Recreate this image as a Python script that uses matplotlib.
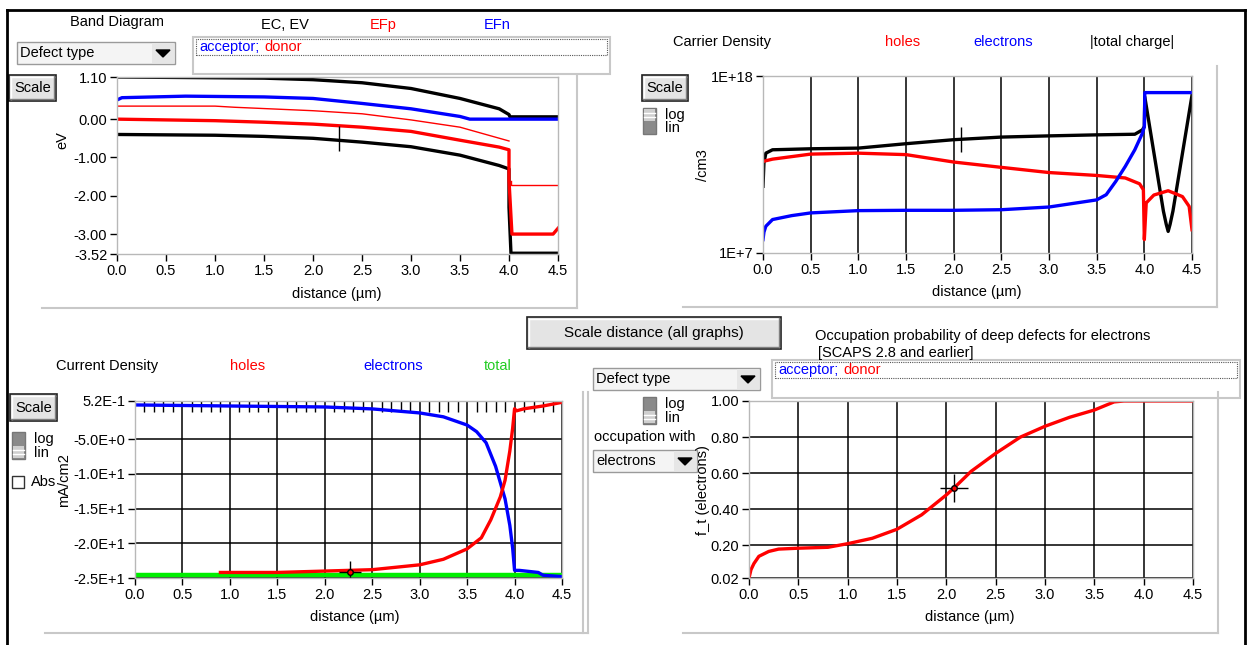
import matplotlib
matplotlib.use("Agg")
import matplotlib.pyplot as plt
from matplotlib.patches import Rectangle, Polygon
from matplotlib.lines import Line2D
from matplotlib.ticker import MultipleLocator, NullLocator

plt.rcParams['font.family'] = ['Liberation Sans', 'DejaVu Sans']
plt.rcParams['font.size'] = 10.5

# ---- data ----
x_ticks = [0.0, 0.5, 1.0, 1.5, 2.0, 2.5, 3.0, 3.5, 4.0, 4.5]

# band diagram (eV)
ec_x = [0.0, 1.0, 1.5, 2.0, 2.5, 3.0, 3.5, 3.9, 4.0, 4.01, 4.5]
ec_y = [1.10, 1.08, 1.07, 1.03, 0.95, 0.80, 0.54, 0.27, 0.12, 0.06, 0.06]
ev_x = [0.0, 1.0, 1.5, 2.0, 2.5, 3.0, 3.5, 3.9, 4.0, 4.0, 4.02, 4.5]
ev_y = [-0.40, -0.42, -0.45, -0.50, -0.60, -0.72, -0.94, -1.21, -1.30, -2.30, -3.50, -3.50]
efn_x = [0.0, 0.05, 0.7, 1.5, 2.0, 2.5, 3.0, 3.5, 3.6, 4.5]
efn_y = [0.50, 0.56, 0.60, 0.58, 0.54, 0.41, 0.27, 0.07, 0.0, 0.0]
efp_x = [0.0, 1.0, 1.5, 2.0, 2.5, 3.0, 3.5, 3.9, 4.0, 4.0, 4.03, 4.45, 4.5]
efp_y = [0.0, -0.04, -0.08, -0.13, -0.21, -0.32, -0.55, -0.73, -0.80, -1.60, -3.00, -3.00, -2.85]
ei_x = [0.0, 1.0, 1.2, 2.0, 2.5, 3.0, 3.5, 4.0]
ei_y = [0.34, 0.34, 0.31, 0.22, 0.14, -0.02, -0.21, -0.57]
ei2_x = [4.02, 4.02, 4.5]
ei2_y = [-1.62, -1.71, -1.71]
band_yticks = [1.10, 0.0, -1.0, -2.0, -3.0, -3.52]
band_ylabels = ["1.10", "0.00", "-1.00", "-2.00", "-3.00", "-3.52"]

# carrier density (/cm3)
rho_x = [0.0, 0.01, 0.03, 0.1, 0.5, 1.0, 1.5, 2.0, 2.5, 3.0, 3.5, 3.9, 3.98, 4.0,
         4.005, 4.2, 4.23, 4.25, 4.27, 4.3, 4.5]
rho_y = [1.4e11, 4.0e12, 1.6e13, 2.6e13, 3.0e13, 3.3e13, 6.2e13, 1.1e14, 1.6e14, 1.9e14,
         2.2e14, 2.4e14, 4.5e14, 7.2e14, 5.0e16, 4.0e9, 6.0e8, 2.2e8, 6.0e8, 4.0e9, 6.3e16]
p_x = [0.0, 0.1, 0.5, 1.0, 1.5, 2.0, 2.5, 3.0, 3.5, 3.8, 3.95, 3.99, 4.0, 4.01, 4.02,
       4.1, 4.25, 4.4, 4.47, 4.5]
p_y = [4.9e12, 6.8e12, 1.4e13, 1.6e13, 1.3e13, 4.5e12, 2.1e12, 1.0e12, 6.6e11, 4.6e11,
       2.0e11, 8.5e10, 6.8e7, 1.0e9, 1.3e10, 4.0e10, 7.4e10, 3.2e10, 7.9e9, 2.8e8]
n_x = [0.0, 0.01, 0.03, 0.1, 0.3, 0.5, 1.0, 1.5, 2.0, 2.5, 3.0, 3.5, 3.6, 3.7, 3.8, 3.9,
       3.98, 4.0, 4.005, 4.5]
n_y = [6.8e7, 2.0e8, 4.6e8, 1.2e9, 2.1e9, 3.1e9, 4.3e9, 4.5e9, 4.5e9, 4.9e9, 7.2e9,
       2.0e10, 4.2e10, 2.8e11, 2.4e12, 2.6e13, 2.8e14, 7.2e14, 9.3e16, 9.3e16]

# current density (mA/cm2)
jn_x = [0.0, 1.0, 2.0, 2.5, 3.0, 3.25, 3.5, 3.6, 3.7, 3.8, 3.9, 3.95, 3.98, 4.0, 4.05,
        4.25, 4.3, 4.5]
jn_y = [-0.05, -0.2, -0.34, -0.62, -1.2, -1.76, -2.95, -3.9, -5.5, -8.9, -13.6, -17.4,
        -20.7, -23.9, -23.9, -24.2, -24.6, -24.8]
jp_x = [0.9, 1.5, 2.0, 2.5, 3.0, 3.25, 3.5, 3.65, 3.75, 3.85, 3.9, 3.95, 3.98, 4.0,
        4.02, 4.1, 4.3, 4.5]
jp_y = [-24.2, -24.2, -24.0, -23.8, -23.1, -22.3, -20.8, -19.2, -16.6, -13.3, -10.9,
        -6.7, -3.4, -0.6, -0.9, -0.6, -0.2, 0.33]
jt_x = [0.0, 4.5]
jt_y = [-24.5, -24.5]
j_yticks = [0.52, -5, -10, -15, -20, -25]
j_ylabels = ["5.2E-1", "-5.0E+0", "-1.0E+1", "-1.5E+1", "-2.0E+1", "-2.5E+1"]

# occupation probability
ft_x = [0.0, 0.02, 0.05, 0.1, 0.2, 0.3, 0.5, 0.8, 1.0, 1.25, 1.5, 1.75, 2.0, 2.1, 2.25,
        2.5, 2.75, 3.0, 3.25, 3.5, 3.7, 3.8, 4.5]
ft_y = [0.02, 0.066, 0.10, 0.14, 0.167, 0.18, 0.185, 0.19, 0.21, 0.24, 0.29, 0.37, 0.48,
        0.53, 0.61, 0.71, 0.80, 0.86, 0.91, 0.95, 0.995, 1.0, 1.0]
ft_yticks = [0.02, 0.20, 0.40, 0.60, 0.80, 1.00]

# cursor positions
cur_band = (2.27, -0.5)
cur_rho = (2.08, 1.2e14)
cur_j = (2.27, -24.1)
cur_ft = (2.08, 0.52)

RED, BLUE, GREEN = '#ff0000', '#0000ff', '#00ee00'

W, H = 1252, 645
fig = plt.figure(figsize=(W / 100, H / 100), dpi=100)
fig.patch.set_facecolor('white')


def ax_px(l, t, r, b):
    return fig.add_axes([l / W, 1 - b / H, (r - l) / W, (b - t) / H])


def txt(x, y, s, **kw):
    kw.setdefault('va', 'center')
    fig.text(x / W, 1 - y / H, s, **kw)


def rect(l, t, r, b, **kw):
    fig.add_artist(Rectangle((l / W, 1 - b / H), (r - l) / W, (b - t) / H,
                             transform=fig.transFigure, **kw))


def seg(x0, y0, x1, y1, **kw):
    fig.add_artist(Line2D([x0 / W, x1 / W], [1 - y0 / H, 1 - y1 / H],
                          transform=fig.transFigure, **kw))


def button(l, t, r, b, s, fs=10.5):
    rect(l, t, r, b, facecolor='#e4e4e4', edgecolor='#202020', lw=1.2)
    seg(l + 2, t + 2, r - 2, t + 2, color='white', lw=1)
    seg(l + 2, t + 2, l + 2, b - 2, color='white', lw=1)
    seg(l + 1, b - 2, r - 2, b - 2, color='#808080', lw=1)
    seg(r - 2, t + 1, r - 2, b - 2, color='#808080', lw=1)
    txt((l + r) / 2, (t + b) / 2, s, ha='center', fontsize=fs)


def dropdown(l, t, r, b, s):
    rect(l, t, r, b, facecolor='#f4f4f4', edgecolor='#9a9a9a', lw=1)
    rect(r - 23, t + 1, r - 1, b - 1, facecolor='#e6e6e6', edgecolor='none')
    cx, cy = r - 12, (t + b) / 2
    fig.add_artist(Polygon([((cx - 7) / W, 1 - (cy - 3) / H), ((cx + 7) / W, 1 - (cy - 3) / H),
                            (cx / W, 1 - (cy + 4) / H)], closed=True, transform=fig.transFigure,
                           facecolor='black', edgecolor='black'))
    txt(l + 3, (t + b) / 2, s, ha='left')


def switch(l, t, r, b, log_on):
    # the lighter, striped half is the selected one
    m = (t + b) / 2
    dark, light = '#8a8a8a', '#cfcfcf'
    rect(l, t, r, b, facecolor=dark, edgecolor='#777777', lw=1)
    if log_on:
        rect(l + 1, t + 1, r - 1, m, facecolor=light, edgecolor='none')
        ly = (t + m) / 2
    else:
        rect(l + 1, m, r - 1, b - 1, facecolor=light, edgecolor='none')
        ly = (m + b) / 2
    for d in (-2, 2):
        seg(l + 1, ly + d, r - 1, ly + d, color='white', lw=1)
    txt(r + 9, t + 7, 'log', ha='left')
    txt(r + 9, b - 6, 'lin', ha='left')


def legend_box(l, t, r, b, xa, xd):
    rect(l, t, r, b, facecolor='white', edgecolor='#c8c8c8', lw=1.5)
    rect(l + 3, t + 2, r - 3, t + 18, facecolor='none', edgecolor='#555555', lw=0.8, ls=(0, (1, 1)))
    txt(xa, t + 10, 'acceptor;', ha='left', color=BLUE)
    txt(xd, t + 10, 'donor', ha='left', color=RED)


def style(ax, ylo, yhi, gx=False, gy=False):
    for s in ax.spines.values():
        s.set_color('#b8b8b8')
        s.set_linewidth(1)
    ax.set_xlim(0, 4.5)
    ax.set_ylim(ylo, yhi)
    ax.set_xticks(x_ticks)
    ax.set_xticklabels(['%.1f' % v for v in x_ticks])
    ax.tick_params(direction='out', length=5, width=1, color='black', labelsize=10.5, pad=2)
    if gx:
        ax.xaxis.grid(True, color='black', lw=1.1)
    if gy:
        ax.yaxis.grid(True, color='black', lw=1.1)
    ax.set_axisbelow(True)
    ax.set_facecolor('white')


# outer frame
seg(7, 10, 1245, 10, color='black', lw=2)
seg(7, 10, 7, 645, color='black', lw=2)
seg(1245, 10, 1245, 645, color='black', lw=2)

# panel outlines
gray = '#c8c8c8'
seg(577, 76, 577, 308, color=gray, lw=1.5)
seg(42, 308, 577, 308, color=gray, lw=1.5)
seg(1217, 66, 1217, 307, color=gray, lw=1.5)
seg(683, 307, 1217, 307, color=gray, lw=1.5)
seg(588, 392, 588, 633, color=gray, lw=1.5)
seg(45, 633, 588, 633, color=gray, lw=1.5)
seg(583, 392, 583, 633, color=gray, lw=1.5)
seg(683, 633, 1218, 633, color=gray, lw=1.5)
seg(1218, 392, 1218, 633, color=gray, lw=1.5)

# ---- band diagram ----
ax1 = ax_px(117, 77, 558, 254)
style(ax1, -3.52, 1.10)
ax1.set_yticks(band_yticks)
ax1.set_yticklabels(band_ylabels)
ax1.plot(ei_x, ei_y, color=RED, lw=1)
ax1.plot(ei2_x, ei2_y, color=RED, lw=1)
ax1.plot(ec_x, ec_y, color='black', lw=2.4)
ax1.plot(ev_x, ev_y, color='black', lw=2.4)
ax1.plot(efn_x, efn_y, color=BLUE, lw=2.4)
ax1.plot(efp_x, efp_y, color=RED, lw=2.4)
ax1.plot([cur_band[0]], [cur_band[1]], marker='|', ms=18, color='black', mew=1)
txt(117, 22, 'Band Diagram', ha='center')
txt(285, 25, 'EC, EV', ha='center')
txt(383, 25, 'EFp', ha='center', color=RED)
txt(497, 25, 'EFn', ha='center', color=BLUE)
dropdown(17, 42, 175, 64, 'Defect type')
legend_box(193, 37, 610, 74, 199, 264)
button(9, 75, 56, 101, 'Scale')
txt(62, 140, 'eV', ha='center', rotation=90)
txt(337, 294, 'distance (µm)', ha='center')

# ---- carrier density ----
ax2 = ax_px(763, 76, 1192, 253)
style(ax2, 1e7, 1e18, gx=True)
ax2.set_yscale('log')
ax2.set_ylim(1e7, 1e18)
ax2.set_yticks([1e7, 1e18])
ax2.set_yticklabels(['1E+7', '1E+18'])
ax2.yaxis.set_minor_locator(NullLocator())
ax2.plot(rho_x, rho_y, color='black', lw=2.4)
ax2.plot(p_x, p_y, color=RED, lw=2.4)
ax2.plot(n_x, n_y, color=BLUE, lw=2.4)
ax2.plot([cur_rho[0]], [cur_rho[1]], marker='|', ms=18, color='black', mew=1)
txt(722, 42, 'Carrier Density', ha='center')
txt(903, 42, 'holes', ha='center', color=RED)
txt(1003, 42, 'electrons', ha='center', color=BLUE)
txt(1132, 42, '|total charge|', ha='center')
button(642, 75, 688, 101, 'Scale')
switch(643, 108, 656, 134, True)
txt(703, 165, '/cm3', ha='center', rotation=90)
txt(977, 292, 'distance (µm)', ha='center')

# ---- current density ----
ax3 = ax_px(135, 401, 562, 578)
style(ax3, -25, 0.52, gx=True, gy=True)
ax3.set_yticks(j_yticks)
ax3.set_yticklabels(j_ylabels)
ax3.xaxis.set_minor_locator(MultipleLocator(0.1))
ax3.tick_params(axis='x', which='minor', bottom=False, top=True, direction='in',
                length=8, width=1, color='black')
ax3.plot(jt_x, jt_y, color=GREEN, lw=3.2)
ax3.plot(jn_x, jn_y, color=BLUE, lw=2.4)
ax3.plot(jp_x, jp_y, color=RED, lw=2.4)
ax3.plot([cur_j[0]], [cur_j[1]], marker='+', ms=16, color='black', mew=1)
ax3.plot([cur_j[0]], [cur_j[1]], marker='o', ms=4, mfc=RED, mec='black')
button(527, 317, 781, 349, 'Scale distance (all graphs)', fs=11)
txt(107, 366, 'Current Density', ha='center')
txt(248, 366, 'holes', ha='center', color=RED)
txt(393, 366, 'electrons', ha='center', color=BLUE)
txt(498, 366, 'total', ha='center', color='#22cc22')
button(10, 394, 57, 421, 'Scale')
switch(12, 432, 25, 459, False)
rect(12, 476, 24, 488, facecolor='white', edgecolor='#333333', lw=1)
txt(31, 482, 'Abs', ha='left')
txt(64, 480, 'mA/cm2', ha='center', rotation=90)
txt(355, 617, 'distance (µm)', ha='center')

# ---- occupation probability ----
ax4 = ax_px(749, 401, 1193, 578)
style(ax4, 0.02, 1.00, gx=True, gy=True)
ax4.set_yticks(ft_yticks)
ax4.set_yticklabels(['%.2f' % v for v in ft_yticks])
ax4.plot(ft_x, ft_y, color=RED, lw=2.4)
ax4.plot([cur_ft[0]], [cur_ft[1]], marker='+', ms=20, color='black', mew=1)
ax4.plot([cur_ft[0]], [cur_ft[1]], marker='o', ms=4, mfc=RED, mec='black')
txt(815, 336, 'Occupation probability of deep defects for electrons', ha='left')
txt(818, 353, '[SCAPS 2.8 and earlier]', ha='left')
dropdown(593, 368, 760, 390, 'Defect type')
legend_box(772, 360, 1240, 398, 778, 843)
switch(643, 397, 656, 424, False)
txt(594, 437, 'occupation with', ha='left')
dropdown(593, 450, 697, 472, 'electrons')
txt(703, 490, 'f_t (electrons)', ha='center', rotation=90)
txt(970, 617, 'distance (µm)', ha='center')

fig.savefig('out.png', dpi=100, facecolor='white')
